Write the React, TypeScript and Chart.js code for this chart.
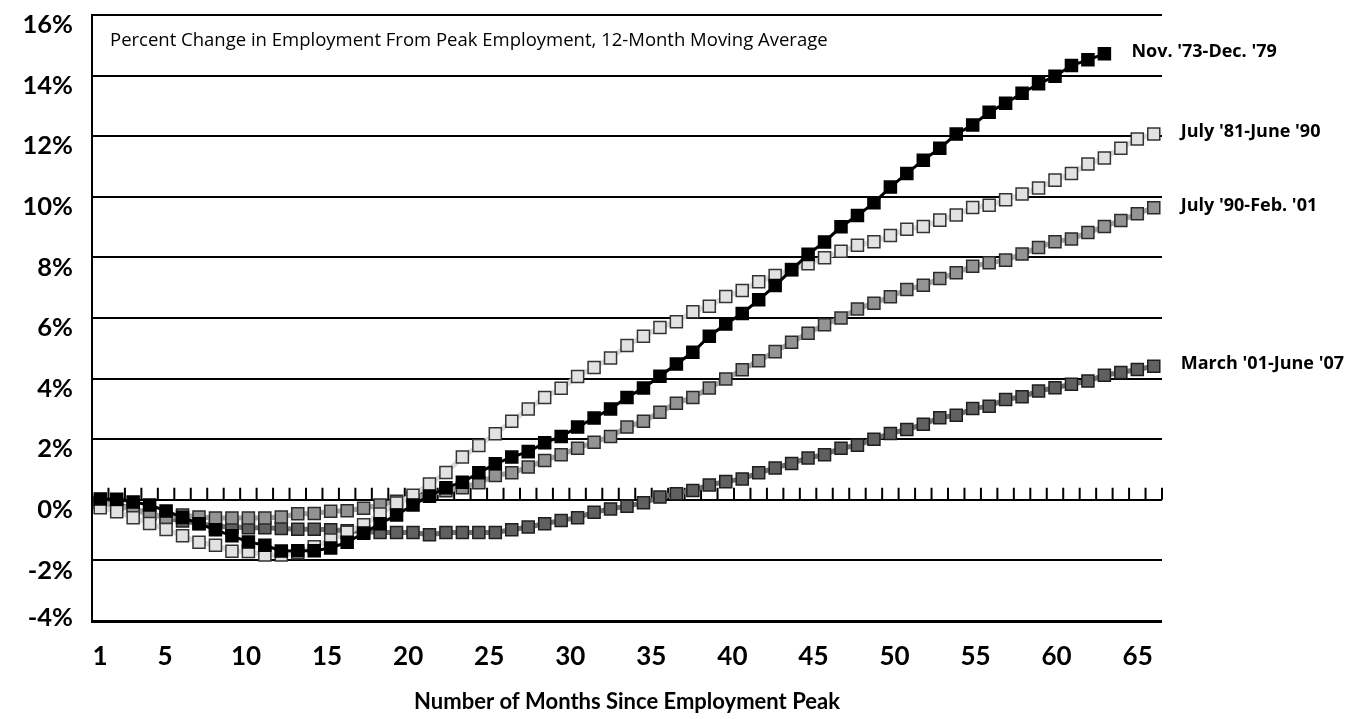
import React, { useEffect, useRef } from "react";
import { Chart, registerables } from "chart.js";

Chart.register(...registerables);

const MONTHS: string[] = Array.from({ length: 65 }, (_, i) => String(i + 1));
const X_TICK_LABELS = [1, 5, 10, 15, 20, 25, 30, 35, 40, 45, 50, 55, 60, 65];
const Y_MIN = -4;
const Y_MAX = 16;
const Y_STEP = 2;

const SERIES_NAMES = [
  "Nov. '73-Dec. '79",
  "July '81-June '90",
  "July '90-Feb. '01",
  "March '01-June '07",
];

const NOV73_DEC79 = [
  0.03, 0.02, -0.07, -0.17, -0.37, -0.58, -0.79, -0.99, -1.19, -1.39,
  -1.5, -1.69, -1.68, -1.68, -1.59, -1.4, -1.1, -0.79, -0.5, -0.17,
  0.12, 0.4, 0.58, 0.89, 1.19, 1.41, 1.59, 1.88, 2.09, 2.4,
  2.7, 3.0, 3.38, 3.69, 4.08, 4.48, 4.87, 5.4, 5.8, 6.15,
  6.6, 7.07, 7.59, 8.1, 8.51, 9.01, 9.38, 9.8, 10.32, 10.77,
  11.21, 11.6, 12.07, 12.37, 12.79, 13.09, 13.42, 13.73, 13.98, 14.33,
  14.52, 14.72,
];

const JUL81_JUN90 = [
  -0.26, -0.39, -0.59, -0.78, -0.98, -1.19, -1.4, -1.5, -1.7, -1.71,
  -1.82, -1.82, -1.75, -1.55, -1.33, -1.07, -0.82, -0.47, -0.11, 0.15,
  0.52, 0.9, 1.41, 1.79, 2.18, 2.59, 3.0, 3.38, 3.68, 4.07,
  4.37, 4.68, 5.09, 5.4, 5.69, 5.88, 6.21, 6.39, 6.71, 6.91,
  7.2, 7.4, 7.6, 7.79, 7.99, 8.2, 8.4, 8.52, 8.72, 8.93,
  9.02, 9.23, 9.4, 9.65, 9.72, 9.9, 10.09, 10.29, 10.55, 10.77,
  11.08, 11.28, 11.6, 11.91, 12.07,
];

const JUL90_FEB01 = [
  -0.1, -0.2, -0.32, -0.48, -0.58, -0.5, -0.57, -0.6, -0.6, -0.6,
  -0.6, -0.57, -0.46, -0.45, -0.38, -0.36, -0.28, -0.17, -0.05, 0.06,
  0.18, 0.3, 0.4, 0.56, 0.8, 0.89, 1.08, 1.3, 1.49, 1.7,
  1.9, 2.09, 2.4, 2.59, 2.89, 3.19, 3.38, 3.69, 3.99, 4.29,
  4.59, 4.89, 5.2, 5.5, 5.78, 6.0, 6.3, 6.49, 6.7, 6.94,
  7.08, 7.3, 7.49, 7.71, 7.82, 7.91, 8.11, 8.33, 8.52, 8.61,
  8.82, 9.02, 9.22, 9.44, 9.64,
];

const MAR01_JUN07 = [
  -0.08, -0.15, -0.3, -0.45, -0.6, -0.7, -0.78, -0.87, -0.9, -0.92,
  -0.92, -0.95, -0.97, -0.97, -0.99, -1.02, -1.05, -1.08, -1.08, -1.08,
  -1.15, -1.08, -1.08, -1.08, -1.08, -0.99, -0.9, -0.79, -0.68, -0.59,
  -0.41, -0.3, -0.21, -0.1, 0.09, 0.2, 0.31, 0.49, 0.6, 0.69,
  0.89, 1.05, 1.2, 1.38, 1.49, 1.7, 1.8, 2.0, 2.19, 2.32,
  2.49, 2.71, 2.79, 3.01, 3.09, 3.31, 3.4, 3.59, 3.7, 3.81,
  3.92, 4.11, 4.2, 4.3, 4.41,
];

const SUBTITLE = "Percent Change in Employment From Peak Employment, 12-Month Moving Average";
const X_TITLE = "Number of Months Since Employment Peak";
const FONT = "Lato, 'Open Sans', sans-serif";
const TEXT_FONT = "'Open Sans', 'Noto Sans', sans-serif";

const tickMarksPlugin = {
  id: "zeroLineTicks",
  beforeDatasetsDraw(chart: any) {
    const x = chart.scales.x;
    const y = chart.scales.y;
    const ctx = chart.ctx;
    const y0 = y.getPixelForValue(0);
    ctx.save();
    ctx.strokeStyle = "#000";
    ctx.lineWidth = 2;
    ctx.beginPath();
    for (let i = 0; i <= MONTHS.length; i++) {
      const px = x.getPixelForValue(i - 0.5);
      ctx.moveTo(px, y0);
      ctx.lineTo(px, y0 - 12);
    }
    ctx.stroke();
    ctx.restore();
  },
};

const annotationsPlugin = {
  id: "annotations",
  afterDatasetsDraw(chart: any) {
    const ctx = chart.ctx;
    const area = chart.chartArea;
    ctx.save();
    ctx.fillStyle = "#000";
    ctx.textBaseline = "middle";
    ctx.textAlign = "left";
    ctx.font = `18.5px ${TEXT_FONT}`;
    ctx.fillText(SUBTITLE, area.left + 18, area.top + 26);
    ctx.font = `bold 18px ${TEXT_FONT}`;
    chart.data.datasets.forEach((ds: any, i: number) => {
      const meta = chart.getDatasetMeta(i);
      const last = meta.data[meta.data.length - 1];
      if (!last) return;
      ctx.fillText(SERIES_NAMES[i], last.x + 27, last.y - 2);
    });
    ctx.restore();
  },
};

function makeDataset(
  label: string,
  data: number[],
  line: string,
  lineWidth: number,
  fill: string,
  border: string
) {
  return {
    label,
    data,
    xAxisID: "x",
    yAxisID: "y",
    borderColor: line,
    borderWidth: lineWidth,
    backgroundColor: fill,
    pointStyle: "rect",
    pointRadius: 8.5,
    pointBackgroundColor: fill,
    pointBorderColor: border,
    pointBorderWidth: 1.5,
    tension: 0,
    fill: false,
  };
}

export default function App() {
  const canvasRef = useRef<HTMLCanvasElement | null>(null);

  useEffect(() => {
    document.body.style.margin = "0";
    const canvas = canvasRef.current;
    if (!canvas) return;
    const chart = new Chart(canvas, {
      type: "line",
      data: {
        labels: MONTHS,
        datasets: [
          makeDataset(SERIES_NAMES[0], NOV73_DEC79, "#000000", 3, "#000000", "#000000"),
          makeDataset(SERIES_NAMES[1], JUL81_JUN90, "#dadada", 5, "#e2e2e2", "#333333"),
          makeDataset(SERIES_NAMES[2], JUL90_FEB01, "#a3a3a3", 5, "#939393", "#2a2a2a"),
          makeDataset(SERIES_NAMES[3], MAR01_JUN07, "#707070", 5, "#606060", "#1e1e1e"),
        ] as any,
      },
      options: {
        responsive: false,
        animation: false,
        layout: { padding: { left: 0, top: 15, right: 186, bottom: 0 } },
        plugins: {
          legend: { display: false },
          tooltip: { enabled: false },
          title: { display: false },
        },
        scales: {
          x: {
            type: "category",
            display: false,
            offset: true,
          },
          x2: {
            type: "linear",
            position: "bottom",
            min: 0.5,
            max: 66.5,
            grid: { display: false, drawTicks: false },
            border: { display: false },
            afterBuildTicks: (scale: any) => {
              scale.ticks = X_TICK_LABELS.map((v) => ({ value: v }));
            },
            afterFit: (scale: any) => {
              scale.height = 98;
              scale.paddingLeft = 0;
              scale.paddingRight = 0;
            },
            ticks: {
              autoSkip: false,
              maxRotation: 0,
              padding: 20,
              color: "#000",
              font: { family: FONT, size: 26, weight: "bold", lineHeight: 1.2 },
              callback: (v: any) => String(v),
            },
            title: {
              display: true,
              text: X_TITLE,
              color: "#000",
              font: { family: FONT, size: 22, weight: "bold", lineHeight: 1.2 },
              padding: { top: 0, bottom: 4 },
            },
          },
          y: {
            type: "linear",
            min: Y_MIN,
            max: Y_MAX,
            afterFit: (scale: any) => {
              scale.width = 92;
              scale.paddingTop = 0;
              scale.paddingBottom = 0;
            },
            grid: {
              color: "#000",
              lineWidth: (c: any) => (c.tick && c.tick.value === Y_MIN ? 3 : 2),
              drawTicks: false,
            },
            border: { display: true, color: "#000", width: 2 },
            ticks: {
              stepSize: Y_STEP,
              padding: 19,
              labelOffset: 10,
              color: "#000",
              font: { family: FONT, size: 25.5, weight: "bold", lineHeight: 1.0 },
              callback: (v: any) => (v === Y_MIN ? [`${v}%`, ""] : `${v}%`),
            },
          },
        },
      } as any,
      plugins: [tickMarksPlugin, annotationsPlugin],
    });
    return () => chart.destroy();
  }, []);

  return (
    <div style={{ width: 1348, height: 719, overflow: "hidden" }}>
      <canvas ref={canvasRef} width={1348} height={719} style={{ display: "block" }} />
    </div>
  );
}
